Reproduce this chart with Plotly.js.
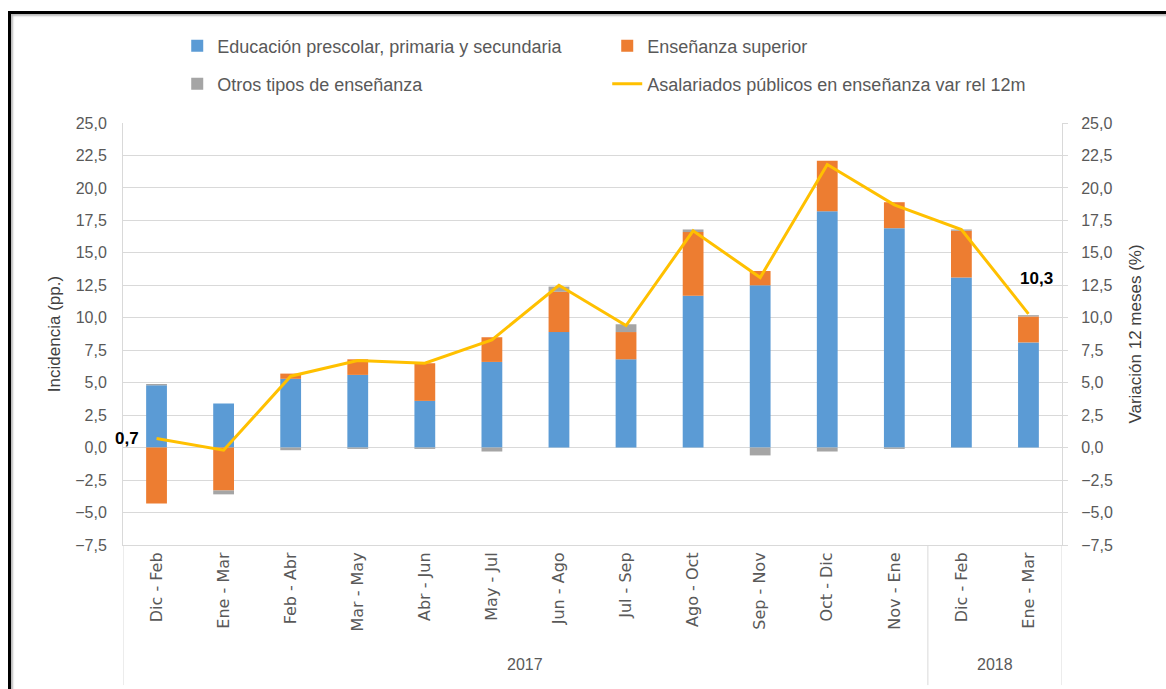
<!DOCTYPE html>
<html>
<head>
<meta charset="utf-8">
<script src="https://cdn.plot.ly/plotly-3.0.1.min.js"></script>
<style>
  html, body { margin: 0; padding: 0; width: 1166px; height: 689px; overflow: hidden; background: #fff; }
  #frame { position: absolute; left: 8px; top: 11px; width: 1170px; height: 700px;
           border-left: 3px solid #000; border-top: 3px solid #000; box-shadow: inset 2px 2px 2px #bbb; pointer-events: none; z-index: 5; }
  #chart { position: absolute; left: 0; top: 0; width: 1166px; height: 689px; }
</style>
</head>
<body>
<div id="chart"></div>
<div id="frame"></div>
<script>
// ---- data ----
const categories = ["Dic - Feb","Ene - Mar","Feb - Abr","Mar - May","Abr - Jun","May - Jul","Jun - Ago","Jul - Sep","Ago - Oct","Sep - Nov","Oct - Dic","Nov - Ene","Dic - Feb","Ene - Mar"];
const years = ["2017","2017","2017","2017","2017","2017","2017","2017","2017","2017","2017","2017","2018","2018"];
const basica = [4.8, 3.4, 5.3, 5.6, 3.6, 6.6, 8.9, 6.8, 11.7, 12.5, 18.2, 16.9, 13.1, 8.1];
const superior = [-4.3, -3.3, 0.4, 1.2, 2.9, 1.9, 3.1, 2.1, 4.9, 1.1, 3.9, 2.0, 3.6, 2.0];
const otros = [0.1, -0.3, -0.2, -0.1, -0.1, -0.3, 0.4, 0.6, 0.2, -0.6, -0.3, -0.1, 0.1, 0.1];
const variacion = [0.7, -0.2, 5.5, 6.7, 6.5, 8.3, 12.5, 9.4, 16.7, 13.1, 21.8, 18.7, 16.8, 10.3];
const yTicks = [-7.5, -5, -2.5, 0, 2.5, 5, 7.5, 10, 12.5, 15, 17.5, 20, 22.5, 25];

const seriesNames = ["Educación prescolar, primaria y secundaria", "Enseñanza superior", "Otros tipos de enseñanza", "Asalariados públicos en enseñanza var rel 12m"];
const colors = ["#5B9BD5", "#ED7D31", "#A5A5A5", "#FFC000"];

const xIdx = categories.map((c, i) => i);
const TXT = "#595959";
const GRID = "#d9d9d9";
const FONT = "Liberation Sans, Arial, sans-serif";

const traces = [
  {type: "bar", name: seriesNames[0], x: xIdx, y: basica, marker: {color: colors[0]}, legend: "legend", hoverinfo: "y"},
  {type: "bar", name: seriesNames[1], x: xIdx, y: superior, marker: {color: colors[1]}, legend: "legend", hoverinfo: "y"},
  {type: "bar", name: seriesNames[2], x: xIdx, y: otros, marker: {color: colors[2]}, legend: "legend2", hoverinfo: "y"},
  {type: "scatter", mode: "lines", name: seriesNames[3], x: xIdx, y: variacion, yaxis: "y2",
   line: {color: colors[3], width: 3}, legend: "legend2", hoverinfo: "y"}
];

// year groups
const groups = [];
years.forEach((y, i) => {
  if (!groups.length || groups[groups.length - 1].year !== y) groups.push({year: y, start: i, end: i});
  else groups[groups.length - 1].end = i;
});
const shapes = [];
const annotations = [];
groups.forEach((g, k) => {
  if (k === 0) shapes.push({type: "line", xref: "x", yref: "paper", x0: g.start - 0.5, x1: g.start - 0.5, y0: 0, y1: -0.332, line: {color: GRID, width: 1}});
  shapes.push({type: "line", xref: "x", yref: "paper", x0: g.end + 0.5, x1: g.end + 0.5, y0: 0, y1: -0.332, line: {color: GRID, width: 1}});
  annotations.push({xref: "x", yref: "paper", x: (g.start + g.end) / 2, y: -0.284, text: g.year, showarrow: false,
    font: {family: FONT, size: 16, color: TXT}, yanchor: "middle"});
});
// data labels (first & last point)
const fmt = v => v.toFixed(1).replace(".", ",");
const nLast = variacion.length - 1;
annotations.push({xref: "x", yref: "y2", x: 0, y: variacion[0], text: "<b>" + fmt(variacion[0]) + "</b>",
  showarrow: true, arrowcolor: "rgba(0,0,0,0)", ax: -30, ay: 0, font: {family: FONT, size: 17, color: "#000"}});
annotations.push({xref: "x", yref: "y2", x: nLast, y: variacion[nLast], text: "<b>" + fmt(variacion[nLast]) + "</b>",
  showarrow: true, arrowcolor: "rgba(0,0,0,0)", ax: 8, ay: -35, font: {family: FONT, size: 17, color: "#000"}});

const yCommon = {
  range: [-7.5, 25], tickvals: yTicks, tickformat: ".1f",
  tickfont: {family: FONT, size: 16, color: TXT},
  showline: true, linecolor: GRID, linewidth: 1, zeroline: false, fixedrange: true
};

const legendCommon = {orientation: "h", xref: "container", yref: "container", x: 0.152, yanchor: "middle",
  entrywidthmode: "pixels", entrywidth: 385, font: {family: FONT, size: 18, color: TXT}, traceorder: "normal", bgcolor: "rgba(0,0,0,0)"};

const layout = {
  width: 1166, height: 689,
  margin: {l: 123, r: 104, t: 123, b: 144},
  paper_bgcolor: "rgba(0,0,0,0)", plot_bgcolor: "#fff",
  separators: ",.",
  barmode: "relative", bargap: 0.69,
  font: {family: FONT, color: TXT},
  showlegend: true,
  legend: Object.assign({}, legendCommon, {y: 1 - 46 / 689}),
  legend2: Object.assign({}, legendCommon, {y: 1 - 84 / 689}),
  xaxis: {
    range: [-0.5, categories.length - 0.5], tickvals: xIdx, ticktext: categories, tickangle: -90,
    tickfont: {family: "DejaVu Sans, sans-serif", size: 16, color: TXT},
    showgrid: false, zeroline: false, showline: true, linecolor: GRID, ticks: "", fixedrange: true
  },
  yaxis: Object.assign({}, yCommon, {
    showgrid: true, gridcolor: GRID, gridwidth: 1, ticks: "", ticklabelstandoff: 12,
    title: {text: "Incidencia (pp.)", font: {family: FONT, size: 17, color: "#404040"}, standoff: 10}
  }),
  yaxis2: Object.assign({}, yCommon, {
    overlaying: "y", side: "right", showgrid: false, ticks: "outside", ticklen: 5, tickcolor: GRID, ticklabelstandoff: 10,
    title: {text: "Variación 12 meses (%)", font: {family: FONT, size: 17, color: "#404040"}, standoff: 17}
  }),
  shapes: shapes,
  annotations: annotations
};

Plotly.newPlot("chart", traces, layout, {displayModeBar: false, staticPlot: true});
</script>
</body>
</html>
